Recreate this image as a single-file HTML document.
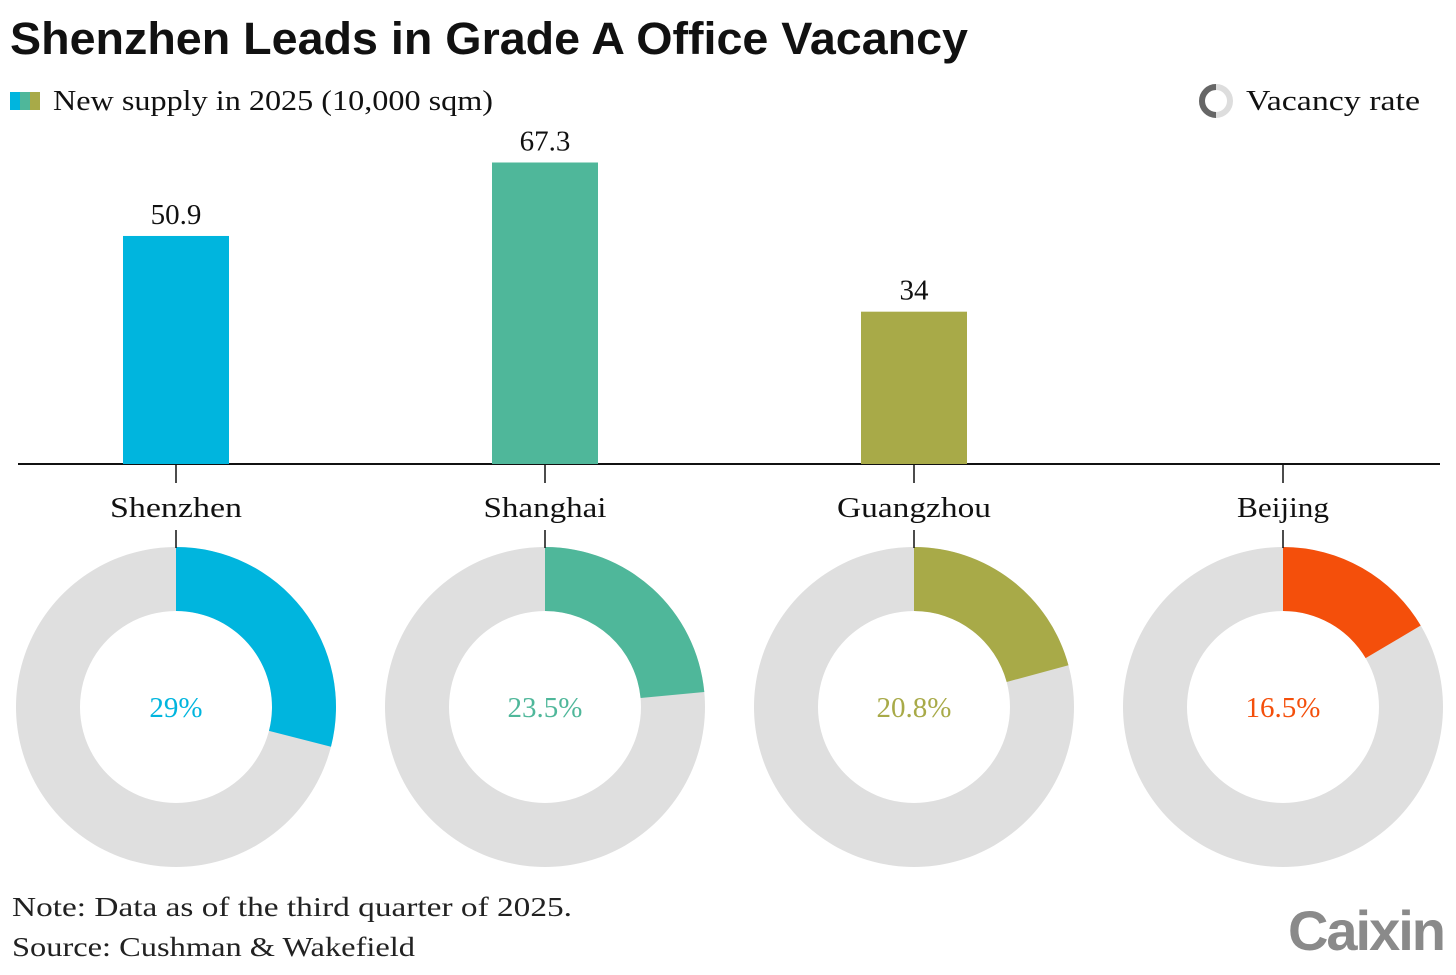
<!DOCTYPE html>
<html><head><meta charset="utf-8"><style>
body{margin:0;background:#fff;}
svg text{font-family:"Liberation Serif",serif;}
</style></head><body>
<svg id="c" width="1456" height="970" xmlns="http://www.w3.org/2000/svg">
<text x="10" y="54" textLength="958" lengthAdjust="spacingAndGlyphs" font-weight="bold" font-size="45" fill="#111" style="font-family:'Liberation Sans',sans-serif">Shenzhen Leads in Grade A Office Vacancy</text>
<g>
<rect x="10" y="92" width="10" height="18" fill="#00b5de"/><rect x="20" y="92" width="10" height="18" fill="#4fb79a"/><rect x="30" y="92" width="10" height="18" fill="#a8aa48"/>
<text x="53" y="110" textLength="440" lengthAdjust="spacingAndGlyphs" font-size="28" fill="#111">New supply in 2025 (10,000 sqm)</text></g>
<g>
<circle cx="1216" cy="101" r="14" fill="none" stroke="#ddd" stroke-width="6"/>
<path d="M1216 87 A14 14 0 0 0 1216 115 A14 14 0 0 1 1202 101" fill="none" stroke="#666" stroke-width="6"/>
<text x="1246" y="110" textLength="174" lengthAdjust="spacingAndGlyphs" font-size="28" fill="#111">Vacancy rate</text></g>
<line x1="18" y1="464" x2="1440" y2="464" stroke="#111" stroke-width="2"/>
<g id="marks"></g>
<text x="12" y="916" textLength="560" lengthAdjust="spacingAndGlyphs" font-size="27" fill="#222">Note: Data as of the third quarter of 2025.</text>
<text x="12" y="956" textLength="403" lengthAdjust="spacingAndGlyphs" font-size="27" fill="#222">Source: Cushman &amp; Wakefield</text>
<text x="1444" y="950" text-anchor="end" font-size="56" font-weight="bold" fill="#8a8a8a" style="font-family:'Liberation Sans',sans-serif;letter-spacing:-2px">Caixin</text>
</svg>
<script>
const cities=["Shenzhen","Shanghai","Guangzhou","Beijing"];
const supply=[50.9,67.3,34,null];
const supplyLabels=["50.9","67.3","34",""];
const vacancy=[29,23.5,20.8,16.5];
const vacancyLabels=["29%","23.5%","20.8%","16.5%"];
const colors=["#00b5de","#4fb79a","#a8aa48","#f44f0b"];
const labelW=[132,123,154,92];
const NS="http://www.w3.org/2000/svg";
const g=document.getElementById('marks');
function xC(i){return 176+i*369;}
function yS(v){return 464-v*4.48;}
function mk(t,a){const e=document.createElementNS(NS,t);for(const k in a)e.setAttribute(k,a[k]);g.appendChild(e);return e;}
const R=160,r=96,cy=707;
cities.forEach((c,i)=>{
  const x=xC(i);
  if(supply[i]!=null){
    const b=mk('rect',{x:x-53,y:yS(supply[i]),width:106,height:464-yS(supply[i]),fill:colors[i]});
    
    
    const t=mk('text',{x:x,y:yS(supply[i])-12,'text-anchor':'middle','font-size':'29',fill:'#111'});
    t.textContent=supplyLabels[i];
    
    
  }
  const tk=mk('line',{x1:x,y1:464,x2:x,y2:483,stroke:'#111','stroke-width':1.5});
  
  
  const lb=mk('text',{x:x,y:517,'text-anchor':'middle','font-size':'28',fill:'#111',textLength:labelW[i],lengthAdjust:'spacingAndGlyphs'});
  lb.textContent=c;
  
  
  const bg=mk('path',{d:`M${x} ${cy-R}A${R} ${R} 0 1 1 ${x-0.01} ${cy-R}L${x-0.01} ${cy-r}A${r} ${r} 0 1 0 ${x} ${cy-r}Z`,fill:'#dfdfdf'});
  
  
  const a=vacancy[i]/100*2*Math.PI, L=a>Math.PI?1:0;
  const x1=x+R*Math.sin(a),y1=cy-R*Math.cos(a),x2=x+r*Math.sin(a),y2=cy-r*Math.cos(a);
  const arc=mk('path',{d:`M${x} ${cy-R}A${R} ${R} 0 ${L} 1 ${x1} ${y1}L${x2} ${y2}A${r} ${r} 0 ${L} 0 ${x} ${cy-r}Z`,fill:colors[i]});
  
  
  const ln=mk('line',{x1:x,y1:530,x2:x,y2:548,stroke:'#111','stroke-width':1.5});
  
  
  const vt=mk('text',{x:x,y:cy+10,'text-anchor':'middle','font-size':'29',fill:colors[i]});
  vt.textContent=vacancyLabels[i];
  
  
});
</script>
</body></html>
